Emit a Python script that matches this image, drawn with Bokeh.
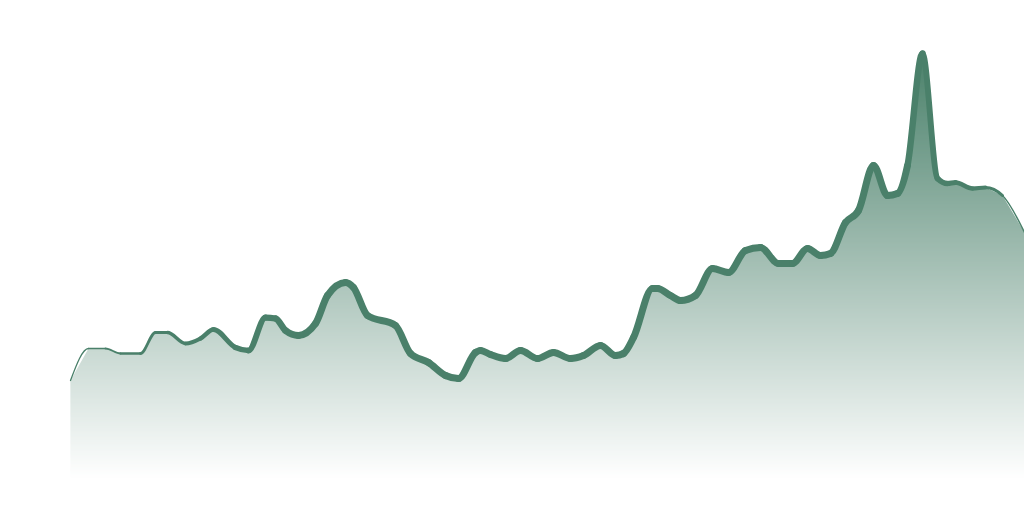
import numpy as np
from bokeh.plotting import figure
from bokeh.models import Range1d, ColumnDataSource
from bokeh.embed import file_html
from bokeh.resources import INLINE

# ---- data (x position, value) ----
week = [70, 88, 105, 120, 140, 155, 167, 185, 200, 213, 235, 248, 265, 275, 285,
        298, 315, 327, 345, 353, 367, 395, 410, 428, 445, 458, 475, 480, 490, 505,
        520, 537, 553, 570, 583, 600, 615, 623, 633, 652, 657, 670, 680, 695, 712,
        728, 745, 760, 778, 792, 807, 820, 830, 845, 858, 873, 887, 897, 907, 922,
        937, 947, 955, 972, 985, 1002, 1024]
value = [100, 132, 132, 127, 127, 148, 148, 137, 142, 151, 133, 130, 163, 162, 150,
         145, 157, 185, 198, 193, 165, 155, 127, 118, 105, 102, 128, 130, 126, 122,
         130, 122, 128, 122, 125, 135, 125, 127, 143, 192, 192, 185, 180, 185, 212,
         208, 230, 233, 217, 217, 232, 225, 227, 258, 270, 315, 285, 287, 315, 427,
         302, 297, 298, 292, 293, 285, 248]

LINE = "#4a806a"
TOP_RGB = (0x4a, 0x80, 0x6a)

p = figure(width=1024, height=504, x_range=Range1d(0, 1024), y_range=Range1d(-24, 480),
           output_backend="svg", toolbar_location=None, min_border=0)
p.axis.visible = False
p.grid.visible = False
p.outline_line_color = None
p.background_fill_color = "white"
p.border_fill_color = "white"

x = np.array(week, dtype=float)
y = np.array(value, dtype=float)

# gradient bands (style), covered above the curve by white
top_v, bot_v = 430, 2
levels = np.arange(bot_v, top_v + 1, 1.0)
cols = []
for lv in levels:
    t = (top_v - lv) / (top_v - bot_v)
    r = int(round(TOP_RGB[0] + (255 - TOP_RGB[0]) * t))
    g = int(round(TOP_RGB[1] + (255 - TOP_RGB[1]) * t))
    b = int(round(TOP_RGB[2] + (255 - TOP_RGB[2]) * t))
    cols.append("#%02x%02x%02x" % (r, g, b))
band = ColumnDataSource(dict(left=[x[0]] * len(levels), right=[x[-1]] * len(levels),
                             bottom=list(levels - 1.0), top=list(levels + 0.6), color=cols))
p.quad(left="left", right="right", bottom="bottom", top="top", fill_color="color",
       line_color=None, source=band)

# white cover above the curve (and left of the first point)
p.varea(x=x, y1=y, y2=[500] * len(x), fill_color="white")
p.quad(left=[x[0] - 30], right=[x[0] + 0.5], bottom=[y[0]], top=[500],
       fill_color="white", line_color=None)

# monotone-x cubic drawing of the line
h = np.diff(x)
m = np.diff(y) / h
n = len(x)
tang = np.zeros(n)
for i in range(1, n - 1):
    if m[i - 1] * m[i] <= 0:
        tang[i] = 0.0
    else:
        pp = (m[i - 1] * h[i] + m[i] * h[i - 1]) / (h[i - 1] + h[i])
        tang[i] = (np.sign(m[i - 1]) + np.sign(m[i])) * min(abs(m[i - 1]), abs(m[i]), 0.5 * abs(pp))
tang[0] = (3 * m[0] - tang[1]) / 2
tang[-1] = (3 * m[-1] - tang[-2]) / 2

xm = (x[:-1] + x[1:]) / 2
widths = np.interp(xm, [70, 100, 140, 200, 260, 300, 900, 940, 990, 1005, 1024],
                   [1.2, 1.5, 2.6, 4.3, 6.0, 7.0, 7.0, 5.5, 3.5, 1.6, 1.2])
seg = ColumnDataSource(dict(
    x0=x[:-1], y0=y[:-1], x1=x[1:], y1=y[1:],
    cx0=x[:-1] + h / 3, cy0=y[:-1] + tang[:-1] * h / 3,
    cx1=x[1:] - h / 3, cy1=y[1:] - tang[1:] * h / 3,
    w=list(widths)))
p.bezier(x0="x0", y0="y0", x1="x1", y1="y1", cx0="cx0", cy0="cy0", cx1="cx1", cy1="cy1",
         line_width="w", line_color=LINE, line_cap="round", source=seg)

open("out.html", "w").write(file_html(p, INLINE))
